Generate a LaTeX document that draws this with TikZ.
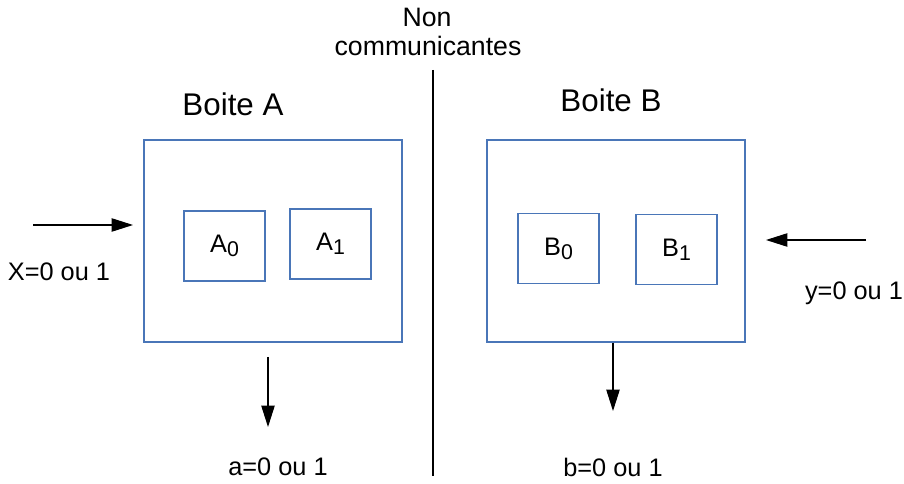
\documentclass[tikz,border=0pt]{standalone}
\usepackage{fontspec}
\setmainfont{Liberation Sans}
\usetikzlibrary{arrows.meta}
\definecolor{boxblue}{HTML}{4A76B8}
\newcommand{\ind}[1]{\raisebox{-0.3ex}{\fontsize{16}{18}\selectfont #1}}
\begin{document}
\begin{tikzpicture}[x=0.75pt, y=-0.75pt,
    >={Triangle[length=16pt, width=10pt]},
    boite/.style={draw=boxblue, line width=0.9pt, inner sep=0pt},
    etat/.style={boite, minimum width=60.75pt, minimum height=52.5pt, font=\fontsize{19}{22}\selectfont},
    lab/.style={font=\fontsize{19}{22}\selectfont},
    fleche/.style={->, line width=0.9pt}]
    \useasboundingbox (0,0) rectangle (904,484);

    % Boites
    \node[boite, minimum width=193.5pt, minimum height=151.5pt] (boxA) at (273,241) {};
    \node[boite, minimum width=193.5pt, minimum height=151.5pt] (boxB) at (616,241) {};
    \node[font=\fontsize{23.5}{27}\selectfont] (titA) at (233,104) {Boite A};
    \node[font=\fontsize{23.5}{27}\selectfont] (titB) at (611,100) {Boite B};

    % Etats internes
    \node[etat] (A0) at (224.5,246) {A\ind{0}};
    \node[etat] (A1) at (330.5,244) {A\ind{1}};
    \node[etat] (B0) at (558.5,248.5) {B\ind{0}};
    \node[etat] (B1) at (676.5,249.5) {B\ind{1}};

    % Entrees
    \coordinate (xin) at (33,225);
    \coordinate (xend) at (133,225);
    \draw[fleche] (xin) -- (xend);
    \node[lab] (labX) at (59,272) {X=0 ou 1};
    \coordinate (yin) at (866,240);
    \coordinate (yend) at (766,240);
    \draw[fleche] (yin) -- (yend);
    \node[lab] (labY) at (854,293) {y=0 ou 1};

    % Sorties
    \coordinate (aout) at (268,357);
    \coordinate (aend) at (268,427);
    \draw[fleche] (aout) -- (aend);
    \node[lab] (labA) at (278,467) {a=0 ou 1};
    \coordinate (bout) at (boxB.south -| 613,0);
    \coordinate (bend) at (613,411);
    \draw[fleche] (bout) -- (bend);
    \node[lab] (labB) at (613,467) {b=0 ou 1};

    % Separation
    \coordinate (septop) at (433,70);
    \coordinate (sepbot) at (433,476);
    \draw[line width=0.9pt] (septop) -- (sepbot);
    \node[font=\fontsize{20}{23}\selectfont] (non) at (427,17) {Non};
    \node[font=\fontsize{20}{23}\selectfont] (comm) at (428,46) {communicantes};
\end{tikzpicture}
\end{document}
